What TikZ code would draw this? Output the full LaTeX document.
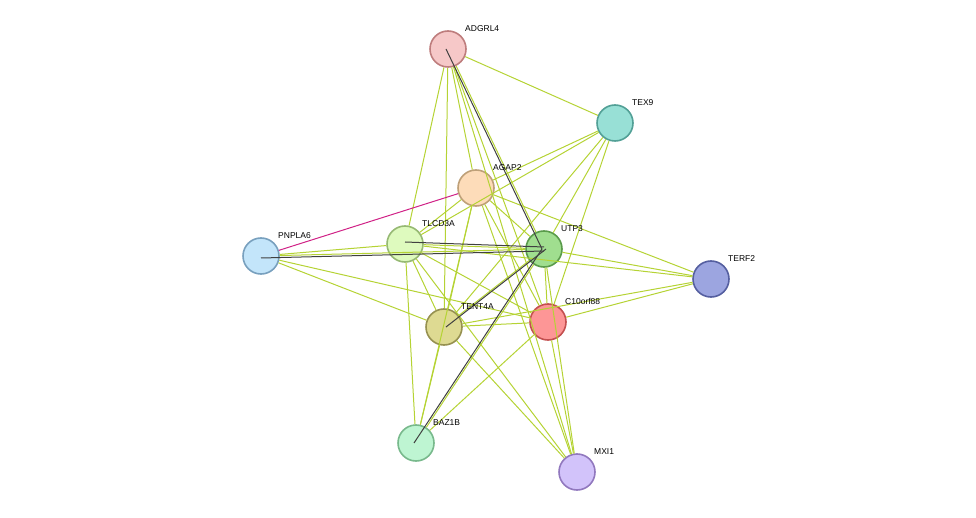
\documentclass[tikz,border=0pt]{standalone}
\usepackage{fontspec}
\setmainfont{Liberation Sans}
\begin{document}
\begin{tikzpicture}[x=1pt,y=-1pt,
  nd/.style={circle,draw,line width=1.6pt,minimum size=36pt,inner sep=0pt},
  lb/.style={font=\fontsize{8.5}{10}\selectfont,anchor=south west,inner sep=1pt},
  g/.style={draw=yellowgreen,line width=1pt},
  d/.style={draw=black!75,line width=1pt},
  m/.style={draw=magenta!85!black,line width=1pt}]
\definecolor{yellowgreen}{HTML}{B5D334}
\useasboundingbox (0,0) rectangle (976,518);
\node[nd,fill={rgb,255:red,246;green,200;blue,200},draw={rgb,255:red,190;green,125;blue,125}] (adgrl4) at (448,49) {};
\node[nd,fill={rgb,255:red,152;green,224;blue,214},draw={rgb,255:red,82;green,160;blue,150}] (tex9) at (615,123) {};
\node[nd,fill={rgb,255:red,253;green,220;blue,185},draw={rgb,255:red,190;green,160;blue,120}] (agap2) at (476,188) {};
\node[nd,fill={rgb,255:red,195;green,229;blue,250},draw={rgb,255:red,120;green,160;blue,190}] (pnpla6) at (261,256) {};
\node[nd,fill={rgb,255:red,222;green,250;blue,190},draw={rgb,255:red,150;green,185;blue,115}] (tlcd3a) at (405,244) {};
\node[nd,fill={rgb,255:red,160;green,222;blue,143},draw={rgb,255:red,90;green,155;blue,75}] (utp3) at (544,249) {};
\node[nd,fill={rgb,255:red,156;green,165;blue,224},draw={rgb,255:red,85;green,95;blue,160}] (terf2) at (711,279) {};
\node[nd,fill={rgb,255:red,222;green,218;blue,146},draw={rgb,255:red,150;green,145;blue,80}] (tent4a) at (444,327) {};
\node[nd,fill={rgb,255:red,253;green,150;blue,150},draw={rgb,255:red,195;green,80;blue,80}] (c10) at (548,322) {};
\node[nd,fill={rgb,255:red,190;green,245;blue,210},draw={rgb,255:red,120;green,185;blue,140}] (baz1b) at (416,443) {};
\node[nd,fill={rgb,255:red,210;green,195;blue,250},draw={rgb,255:red,145;green,120;blue,190}] (mxi1) at (577,472) {};
\begin{scope}[on background layer/.style={}]
\foreach \a/\b in {adgrl4/tex9,adgrl4/agap2,adgrl4/tlcd3a,adgrl4/utp3,adgrl4/c10,adgrl4/tent4a,adgrl4/mxi1,
 tex9/agap2,tex9/tlcd3a,tex9/utp3,tex9/c10,tex9/tent4a,
 agap2/tlcd3a,agap2/utp3,agap2/terf2,agap2/tent4a,agap2/c10,agap2/baz1b,agap2/mxi1,
 pnpla6/tlcd3a,pnpla6/utp3,pnpla6/tent4a,pnpla6/c10,
 tlcd3a/utp3,tlcd3a/terf2,tlcd3a/tent4a,tlcd3a/c10,tlcd3a/baz1b,tlcd3a/mxi1,
 utp3/terf2,utp3/tent4a,utp3/c10,utp3/baz1b,utp3/mxi1,
 tent4a/c10,tent4a/baz1b,tent4a/terf2,tent4a/mxi1,
 c10/terf2,c10/baz1b,c10/mxi1}
  \path[g] (\a) -- (\b);
\path[d] ([xshift=-2pt]adgrl4.center) -- ([xshift=-2pt]utp3.center);
\path[d] ([yshift=-2pt]pnpla6.center) -- ([yshift=-2pt]utp3.center);
\path[d] ([yshift=2pt]tlcd3a.center) -- ([yshift=2pt]utp3.center);
\path[d] ([xshift=2pt]utp3.center) -- ([xshift=2pt]tent4a.center);
\path[d] ([xshift=-2pt]utp3.center) -- ([xshift=-2pt]baz1b.center);
\path[m] (pnpla6) -- (agap2);
\end{scope}
\foreach \n in {adgrl4,tex9,agap2,pnpla6,tlcd3a,utp3,terf2,tent4a,c10,baz1b,mxi1}
  \node[nd,fill=none,draw=none] at (\n) {};
\node[lb] at (464,33) {ADGRL4};
\node[lb] at (631,107) {TEX9};
\node[lb] at (492,172) {AGAP2};
\node[lb] at (277,240) {PNPLA6};
\node[lb] at (421,228) {TLCD3A};
\node[lb] at (560,233) {UTP3};
\node[lb] at (727,263) {TERF2};
\node[lb] at (460,311) {TENT4A};
\node[lb] at (564,306) {C10orf88};
\node[lb] at (432,427) {BAZ1B};
\node[lb] at (593,456) {MXI1};
\end{tikzpicture}
\end{document}
